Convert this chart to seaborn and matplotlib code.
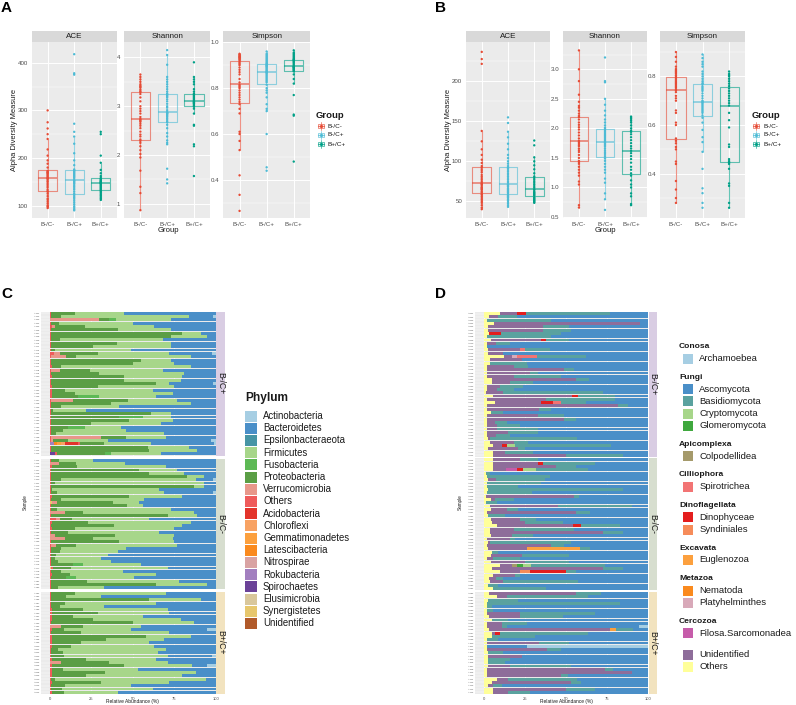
import numpy as np
import pandas as pd
import matplotlib
matplotlib.use("Agg")
import matplotlib.pyplot as plt
import seaborn as sns
from matplotlib.patches import Rectangle
from matplotlib.ticker import AutoMinorLocator

W, H = 796, 705

# ---------------- alpha diversity values ----------------
groups = ["B-/C-", "B-/C+", "B+/C+"]
group_colors = {"B-/C-": "#E64B35", "B-/C+": "#4DBBD5", "B+/C+": "#00A087"}

bact_ace = {
    "B-/C-": [95, 98, 100, 104, 108, 112, 115, 120, 125, 129, 131, 134, 138, 141, 144, 147, 150, 152, 155, 157,
              158, 160, 162, 164, 166, 168, 169, 170, 172, 173, 180, 188, 195, 205, 218, 240, 250, 262, 275, 300],
    "B-/C+": [90, 92, 95, 98, 102, 106, 110, 114, 117, 120, 123, 126, 130, 134, 137, 140, 143, 146, 148, 150, 152,
              153, 156, 159, 161, 163, 165, 167, 169, 171, 173, 174, 176, 185, 195, 210, 230, 245, 255, 272, 375, 378, 418],
    "B+/C+": [112, 115, 118, 121, 124, 127, 130, 132, 134, 136, 138, 140, 142, 144, 146, 147,
              148, 149, 150, 151, 153, 154, 156, 158, 162, 168, 175, 190, 205, 250, 255],
}
bact_shannon = {
    "B-/C-": [0.87, 1.22, 1.35, 1.68, 1.95, 2.02, 2.1, 2.18, 2.25, 2.29, 2.32, 2.38, 2.42, 2.48, 2.55, 2.6, 2.64, 2.68, 2.7, 2.72,
              2.74, 2.78, 2.85, 2.9, 2.95, 3.0, 3.1, 3.18, 3.25, 3.29, 3.31, 3.34, 3.38, 3.4, 3.42, 3.45, 3.5, 3.55, 3.6, 3.65],
    "B-/C+": [1.42, 1.5, 1.72, 2.22, 2.25, 2.3, 2.38, 2.45, 2.55, 2.62, 2.67, 2.69, 2.72, 2.75, 2.78, 2.8, 2.82, 2.84, 2.85, 2.86, 2.87,
              2.88, 2.92, 2.97, 3.0, 3.05, 3.1, 3.14, 3.18, 3.2, 3.22, 3.24, 3.26, 3.3, 3.35, 3.4, 3.45, 3.5, 3.55, 3.6, 3.85, 4.05, 4.15],
    "B+/C+": [1.57, 2.18, 2.22, 2.6, 2.62, 2.85, 2.95, 2.99, 3.01, 3.03, 3.05, 3.06, 3.07, 3.08, 3.09, 3.1,
              3.12, 3.14, 3.16, 3.18, 3.2, 3.22, 3.24, 3.26, 3.3, 3.35, 3.45, 3.5, 3.55, 3.6, 3.9],
}
bact_simpson = {
    "B-/C-": [0.265, 0.335, 0.42, 0.53, 0.57, 0.6, 0.61, 0.69, 0.71, 0.73, 0.74, 0.75, 0.76, 0.77, 0.78, 0.79, 0.8, 0.805, 0.81, 0.815,
              0.825, 0.84, 0.86, 0.87, 0.88, 0.89, 0.9, 0.905, 0.91, 0.915, 0.922, 0.925, 0.93, 0.932, 0.935, 0.938, 0.94, 0.944, 0.947, 0.95],
    "B-/C+": [0.44, 0.455, 0.6, 0.7, 0.71, 0.73, 0.76, 0.78, 0.79, 0.8, 0.815, 0.825, 0.83, 0.835, 0.84, 0.845, 0.85, 0.855, 0.86, 0.865, 0.868,
              0.87, 0.873, 0.876, 0.88, 0.884, 0.888, 0.892, 0.895, 0.898, 0.9, 0.903, 0.907, 0.91, 0.915, 0.92, 0.925, 0.93, 0.935, 0.94, 0.945, 0.95, 0.96],
    "B+/C+": [0.48, 0.68, 0.685, 0.77, 0.82, 0.84, 0.86, 0.873, 0.877, 0.88, 0.883, 0.886, 0.889, 0.891, 0.893, 0.895,
              0.9, 0.905, 0.91, 0.914, 0.918, 0.921, 0.924, 0.926, 0.93, 0.935, 0.94, 0.945, 0.95, 0.955, 0.965],
}
fung_ace = {
    "B-/C-": [40, 42, 45, 48, 50, 52, 54, 56, 58, 59, 61, 62, 64, 65, 66, 67, 68, 70, 71, 72,
              73, 75, 77, 79, 81, 83, 86, 88, 90, 92, 94, 98, 102, 108, 115, 125, 138, 222, 228, 237],
    "B-/C+": [43, 45, 47, 49, 51, 52, 54, 55, 56, 57, 58, 60, 61, 62, 63, 64, 65, 66, 68, 69, 70, 71,
              73, 75, 77, 79, 81, 83, 85, 87, 89, 91, 92, 94, 97, 100, 104, 108, 115, 122, 130, 137, 148, 155],
    "B+/C+": [48, 49, 50, 51, 52, 53, 54, 55, 57, 58, 59, 60, 61, 62, 64, 65,
              67, 69, 71, 73, 75, 77, 79, 81, 85, 90, 95, 100, 105, 120, 126],
}
fung_shannon = {
    "B-/C-": [0.66, 0.7, 1.05, 1.1, 1.2, 1.25, 1.3, 1.35, 1.4, 1.43, 1.45, 1.5, 1.55, 1.6, 1.63, 1.66, 1.7, 1.72, 1.75, 1.77,
              1.79, 1.83, 1.88, 1.93, 1.98, 2.02, 2.06, 2.1, 2.15, 2.19, 2.21, 2.25, 2.3, 2.35, 2.38, 2.45, 2.57, 2.8, 3.0, 3.32],
    "B-/C+": [0.62, 0.8, 0.9, 1.08, 1.15, 1.25, 1.3, 1.35, 1.4, 1.45, 1.49, 1.52, 1.55, 1.58, 1.6, 1.63, 1.66, 1.69, 1.71, 1.73, 1.75, 1.76,
              1.78, 1.8, 1.82, 1.84, 1.86, 1.88, 1.9, 1.92, 1.94, 1.96, 1.99, 2.01, 2.05, 2.1, 2.15, 2.22, 2.3, 2.4, 2.5, 2.78, 2.8, 3.2],
    "B+/C+": [0.7, 0.72, 0.85, 0.9, 1.0, 1.05, 1.12, 1.2, 1.24, 1.3, 1.35, 1.42, 1.48, 1.53, 1.58, 1.62,
              1.66, 1.7, 1.75, 1.8, 1.85, 1.9, 1.94, 1.96, 2.0, 2.05, 2.1, 2.13, 2.16, 2.18, 2.2],
}
fung_simpson = {
    "B-/C-": [0.28, 0.3, 0.335, 0.37, 0.44, 0.45, 0.5, 0.51, 0.525, 0.535, 0.545, 0.6, 0.61, 0.65, 0.66, 0.7, 0.71, 0.72, 0.735, 0.742,
              0.748, 0.755, 0.76, 0.765, 0.77, 0.775, 0.78, 0.785, 0.79, 0.797, 0.803, 0.81, 0.815, 0.82, 0.825, 0.83, 0.84, 0.86, 0.88, 0.9],
    "B-/C+": [0.26, 0.28, 0.32, 0.34, 0.42, 0.49, 0.53, 0.55, 0.58, 0.61, 0.63, 0.64, 0.65, 0.655, 0.66, 0.665, 0.67, 0.675, 0.68, 0.685, 0.69, 0.693,
              0.697, 0.7, 0.71, 0.72, 0.73, 0.74, 0.745, 0.75, 0.755, 0.76, 0.768, 0.772, 0.78, 0.79, 0.8, 0.81, 0.82, 0.84, 0.85, 0.86, 0.875, 0.89],
    "B+/C+": [0.26, 0.28, 0.35, 0.36, 0.42, 0.44, 0.445, 0.448, 0.452, 0.46, 0.51, 0.52, 0.59, 0.62, 0.65, 0.68,
              0.69, 0.7, 0.71, 0.72, 0.73, 0.74, 0.75, 0.76, 0.77, 0.78, 0.79, 0.8, 0.805, 0.81, 0.82],
}

metrics = ["ACE", "Shannon", "Simpson"]
bact_ylim = {"ACE": (74, 443), "Shannon": (0.71, 4.31), "Simpson": (0.234, 1.0)}
bact_ticks = {"ACE": [100, 200, 300, 400], "Shannon": [1, 2, 3, 4], "Simpson": [0.4, 0.6, 0.8, 1.0]}
bact_ticklabels = {"ACE": ["100", "200", "300", "400"], "Shannon": ["1", "2", "3", "4"],
                   "Simpson": ["0.4", "0.6", "0.8", "1.0"]}
fung_ylim = {"ACE": (29, 249), "Shannon": (0.483, 3.457), "Simpson": (0.218, 0.94)}
fung_ticks = {"ACE": [50, 100, 150, 200], "Shannon": [0.5, 1.0, 1.5, 2.0, 2.5, 3.0], "Simpson": [0.4, 0.6, 0.8]}
fung_ticklabels = {"ACE": ["50", "100", "150", "200"], "Shannon": ["0.5", "1.0", "1.5", "2.0", "2.5", "3.0"],
                   "Simpson": ["0.4", "0.6", "0.8"]}

# ---------------- relative abundance, bacteria (panel C) ----------------
facet_groups = ["B-/C+", "B-/C-", "B+/C+"]
strip_colors = {"B-/C+": "#D9CDE3", "B-/C-": "#D7DECF", "B+/C+": "#F2E3BF"}
c_counts = [43, 40, 31]

phyla = ["Actinobacteria", "Bacteroidetes", "Epsilonbacteraeota", "Firmicutes", "Fusobacteria",
         "Proteobacteria", "Verrucomicrobia", "Others", "Acidobacteria", "Chloroflexi",
         "Gemmatimonadetes", "Latescibacteria", "Nitrospirae", "Rokubacteria", "Spirochaetes",
         "Elusimicrobia", "Synergistetes", "Unidentified"]
phylum_colors = ["#A6CEE3", "#4A8FC8", "#4795A5", "#A7D68A", "#5DB955", "#5B9E45", "#E8978A", "#EF5B5B",
                 "#E3342B", "#F8A263", "#FCA03E", "#FA8A1E", "#D9A3A3", "#A27FBF", "#6B4298", "#D9C79B",
                 "#E7C76D", "#B15A2A"]

c_others = [.6, .6, 0, .8, 1.5, .5, .5, .5, 1, .5, .5, .5, 2.5, .5, .5, .5, 1.5, .5, .5, 1.5,
            .5, .5, 1.5, 1.5, 1.5, 1.5, .5, .5, 1, .5, .5, .5, .5, .5, .5, .5, .5, 1, 1, 1, .5, .5, 1.6,
            1, 0, 1.5, .5, .5, .5, .5, .5, .5, 1, .5, 1.5, .5, 0, .5, .5, 0, .5, 4, 1.5,
            .5, 1.5, .5, 0, 0, .5, 1, .5, .5, .5, .5, .5, .5, 1, .5, 1.5, .5, .5, .5, .5,
            1, .5, .5, .5, .5, 1.5, 1.5, 1.5, 1.5, .5, 0, 1.5, .5, 1.5, 1.5, 1.5, 1.5, .5, .5, .5,
            1.5, 0, 1.5, 1.5, 1.5, 1.5, .5, 1.5, .5, .5, 1.5]
c_proteo = [14.4, 6.4, 6, 4.7, 18, 40.5, 79.5, 72.5, 5, 40, 25.5, 2.5, 23, 6, 54.5, 49.5, 5.5, 17.5, 29.5, 43.5,
            44.5, 63.5, 27.5, 7.5, 13.5, 15.5, 33, 36.5, 6, 1.5, 60.5, 41.5, 47.5, 24.5, 10.5, 7.5, 3.5, 15, 9, 15,
            58.5, 59.5, 28.9,
            4.5, 10.5, 15, 53.5, 59.5, 82.5, 6.5, 2.5, 86.5, .4, 4.1, 46.5, 6.5, 33.4, 46.1, 4.1, 11, 70.5, 7.7, 21.5,
            38.5, 13.5, 10.5, 36.5, 17, 41, 12, 6.5, 5.5, 3.5, 2.9, 4.5, 13.5, 11.2, 6.5, 10.5, 9.5, 22.2, 63.5, 4.5,
            14, 9.5, 59.5, 8.5, 6, 18.5, 27.5, 12.5, 24.5, 49.5, 13, 7.1, 18.5, 56.5, 32.5, 17.5, 11.1, 4.5, 7.5, 8.1,
            20.5, 29, 43.5, 6.5, 32, 20.5, 2.5, 29.5, 8.5, 7.1, 6.9]
c_firmi = [30, 77, 33, 44.5, 42, 32, 11, 22, 62, 32.5, 47, 46, 43, 69, 18, 25, 78, 44, 51, 35,
           34, 8, 46, 53, 59, 34.5, 30, 48, 35, 20, 12, 16.5, 26, 42, 22, 38, 65, 24, 24, 28, 25, 29, 30,
           20.5, 29.5, 53.5, 23, 21, 10, 81, 90, 6, 64.6, 64.4, 32, 50, 16, 9.4, 68.4, 67, 18, 46.3, 62,
           41, 60, 55, 35.5, 48, 33.5, 61, 39, 35, 31, 27.6, 32, 35, 58, 37, 52, 35, 55.3, 31, 28,
           55, 21, 31, 55, 26.5, 51, 43, 42, 53, 37, 35, 40.4, 53, 27, 35, 41, 50.4, 65, 57, 62.4,
           42, 35, 41, 45, 54.5, 58, 91, 41, 40, 54.4, 32.6]
c_bacter = [55, 14.5, 27, 50, 37, 27, 9, 5, 32, 27, 27, 51, 26, 15, 27, 25, 15, 32, 19, 20,
            21, 26.5, 25, 38, 26, 36, 23, 15, 58, 78, 27, 27, 26, 33, 57, 54, 31, 30, 62, 38, 16, 11, 33,
            74, 54.5, 30, 23, 19, 7, 10.5, 7, 7, 34, 29.5, 20, 43, 46, 44, 27, 13, 11, 40, 15,
            20, 25, 34, 25, 26, 25, 23, 54, 59, 65, 69, 63, 45, 29, 56, 36, 49, 22, 5, 67,
            30, 69, 9, 36, 67, 29, 28, 44, 21, 13, 45, 46, 28, 15, 31, 40, 37, 30, 35, 27,
            36, 29, 9, 47, 12, 20, 6, 28, 51, 38, 59]
# sparse phyla: sample index -> percent
c_verru = {2: 30, 4: 1.5, 12: 3.5, 13: 9.5, 17: 6, 26: 13.5, 37: 30, 38: 1, 44: 5.5, 56: 3.2,
           59: 9, 61: 2, 66: 3, 67: 9, 69: 3, 93: 7, 104: 7}
c_fuso = {2: 4, 25: 12.5, 31: 14.5, 34: 10, 42: 3.5, 75: 6, 79: 6}
c_actino = {1: 1.5, 12: 2, 21: 1.5, 38: 3, 39: 1, 49: 1.5, 53: 1.5, 94: 5, 102: 2, 105: 5}
c_acido = {39: 8}
c_chloro = {39: 2.4}
c_gemma = {39: 2.5}
c_latesc = {39: 1.5}
c_roku = {39: 2.6}
c_spiro = {42: 3}
c_syner = {56: 1.4, 76: 0.8}

# ---------------- relative abundance, eukaryotes (panel D) ----------------
d_counts = [44, 40, 31]
taxa_groups = [("Conosa", ["Archamoebea"]),
               ("Fungi", ["Ascomycota", "Basidiomycota", "Cryptomycota", "Glomeromycota"]),
               ("Apicomplexa", ["Colpodellidea"]),
               ("Cilliophora", ["Spirotrichea"]),
               ("Dinoflagellata", ["Dinophyceae", "Syndiniales"]),
               ("Excavata", ["Euglenozoa"]),
               ("Metazoa", ["Nematoda", "Platyhelminthes"]),
               ("Cercozoa", ["Filosa.Sarcomonadea"]),
               ("", ["Unidentified", "Others"])]
taxa_colors = ["#A6CEE3", "#4A8FC8", "#5AA29F", "#A7D68A", "#3FA83E", "#A59A6B", "#F27474", "#E41E1E",
               "#F68C5A", "#FCA03E", "#FA8A1E", "#D8A9B9", "#C65CAA", "#8E6D9A", "#FFFF99"]

d_others = [9.7, 3.2, 1.6, 6, 2.6, 2.6, 3.2, 1.6, 4, 2, 1.6, 2.6, 2.6, 12, 3.6, 3.6, 2, 2, 2, 2,
            4.7, 4.7, 2, 1.6, 1.2, 5.3, 2, 6.5, 1.6, 1.6, 4, 1.6, 1.6, 2, 2, 2, 1.6, 1.6, 2.6, 3.6, 5.3, 2.6, 5.7, 5.7,
            5.7, 5.7, 5.7, 5.3, 1.2, 2, 2.6, 1.6, 2, 2.6, 1.6, 1.2, 4, 1.2, 3.6, 4, 2, 2.6, 4, 4.7,
            8, 3.6, 3.6, 4, 2, 2.6, 2, 2.6, 4.7, 4, 2, 4, 9.7, 4.7, 10, 5.7, 3.2, 3.6, 2.6, 5.3,
            3.2, 8, 2.6, 2, 2, 2, 1.6, 3.2, 4.7, 1.6, 1.6, 3.2, 4.7, 4.7, 2, 1.6, 2, 2, 2.6, 2.6,
            2.6, 2.6, 2.6, 2, 1.6, 2, 8, 4.7, 2.6, 5.7, 5.3]
d_unident = [10.2, 5.5, 0, 89, 33.4, 33.4, 0, 0, 30.7, 5.3, 0, 19.4, 8.8, 5, 19.4, 0, 16, 47, 26, 16,
             51.3, 11.3, 7.7, 6.1, 10.6, 48.5, 36, 28, 80.4, 32.1, 0, 31.1, 47.4, 4.7, 6, 5.7, 13.2, 5.7, 1, 14.4,
             5.5, 18.4, 7.1, 44.3,
             16.3, 27.3, 38.3, 8.1, 0, 0, 4.7, 0, 0, 0, 0, 53.8, 2.7, 0, 41.4, 9.8, 54, 0, 18, 20.3,
             46, 14.4, 69, 12.8, 13.8, 1.1, 39, 23.4, 0, 19, 3.7, 21, 7.1, 67.9, 12, 13.2, 4.1, 8.2, 0, 0,
             53.2, 5.8, 0, 0, 0, 0, 20.4, 18.8, 0, 9.2, 9.2, 73.5, 2, 0, 0, 32.1, 0, 36.5, 0, 20.4,
             0, 0, 13.2, 71.6, 88.4, 45, 6.8, 48.3, 3.1, 44.3, 9.5]
d_basidio = [51.4, 11.3, 39.4, 0, 16, 17, 36.7, 39, 13.7, 8.7, 0, 15, 0, 29.5, 0, 22.4, 9, 6, 5, 29,
             8, 14, 14.3, 10.3, 60.8, 22.4, 42, 15, 6, 7.3, 7.4, 16.3, 7, 7.1, 14, 25.3, 18.2, 8.7, 53.4, 9,
             58.8, 4, 17.2, 35,
             10.7, 31.5, 12.4, 31.5, 2.5, 38, 29.7, 33.4, 19, 82.2, 27.4, 3, 11.3, 6.5, 45.5, 7.2, 8.5, 10.2, 10, 23,
             23.6, 37, 12.2, 12.8, 3.1, 49.3, 8, 6.1, 4, 29, 16.3, 27, 45, 12.2, 6.4, 3.1, 4.5, 45.6, 6.1, 32.7,
             15.2, 49.7, 18.4, 81, 2.7, 3.3, 45.5, 26, 10.1, 15.2, 3, 10.6, 53.5, 26.3, 6.7, 18.3, 0, 8.5, 9.2, 0,
             13.4, 10.2, 37.2, 5.1, 0, 4, 42, 6.4, 5.1, 17.5, 13.2]
d_asco = [23, 80, 59, 5, 48, 47, 53, 59.4, 48.3, 84, 98.4, 60, 88.6, 38, 77, 74, 73, 45, 67, 53,
          36, 70, 76, 82, 27.4, 20, 20, 38, 12, 59, 88.6, 51, 44, 86.2, 78, 67, 67, 84, 43, 73,
          22.3, 75, 70, 15,
          67.3, 32.5, 43.6, 36.5, 96.3, 60, 63, 65, 79, 15.2, 71, 42, 82, 92.3, 9.5, 79, 35.5, 87.2, 68, 52,
          17, 45, 15.2, 70.4, 81.1, 47, 51, 35.5, 91.3, 48, 78, 48, 26.4, 15.2, 43.6, 78, 88.2, 42.6, 91.3, 62,
          28.4, 36.5, 79, 17, 95.3, 94.7, 32.5, 52, 85.2, 74, 80.5, 9.1, 36.5, 69, 91.3, 48, 24, 53, 88.2, 77,
          84, 87.2, 47, 21.3, 10, 49, 43.2, 40.6, 89.2, 32.5, 72]
d_dino = {0: 5.7, 6: 7.1, 8: 3.3, 25: 3.8, 27: 7.5, 40: 3.2, 45: 3, 47: 4, 64: 5.4, 78: 22, 96: 3.3}
d_spirot = {11: 3, 13: 12.5, 27: 5}
d_platy = {13: 3}
d_crypto = {40: 4.9, 47: 8, 76: 4.6}
d_filosa = {47: 6.6}
d_colpo = {76: 3.2}
d_glomero = {76: 4}
d_syndin = {78: 6}
d_eugleno = {71: 32.4, 95: 3.6}
d_archa = {94: 5.7, 100: 74}

c_samples = [f"A{101 + i}" for i in range(sum(c_counts))]
d_samples = [f"A{201 + i}" for i in range(sum(d_counts))]


def wide_table(full, sparse, taxa, counts, samples):
    n = sum(counts)
    for vals in full.values():
        assert len(vals) == n, len(vals)
    cols = {}
    for t in taxa:
        if t in full:
            cols[t] = full[t]
        else:
            cols[t] = [sparse.get(t, {}).get(i, 0) for i in range(n)]
    df = pd.DataFrame(cols)
    df.insert(0, "Group", np.repeat(facet_groups, counts))
    df.insert(0, "Sample", samples)
    return df


c_table = wide_table({"Others": c_others, "Proteobacteria": c_proteo, "Firmicutes": c_firmi,
                      "Bacteroidetes": c_bacter},
                     {"Verrucomicrobia": c_verru, "Fusobacteria": c_fuso, "Actinobacteria": c_actino,
                      "Acidobacteria": c_acido, "Chloroflexi": c_chloro, "Gemmatimonadetes": c_gemma,
                      "Latescibacteria": c_latesc, "Rokubacteria": c_roku, "Spirochaetes": c_spiro,
                      "Synergistetes": c_syner},
                     phyla, c_counts, c_samples)
euk_taxa = [t for _, ts in taxa_groups for t in ts]
d_table = wide_table({"Others": d_others, "Unidentified": d_unident, "Basidiomycota": d_basidio,
                      "Ascomycota": d_asco},
                     {"Dinophyceae": d_dino, "Spirotrichea": d_spirot, "Platyhelminthes": d_platy,
                      "Cryptomycota": d_crypto, "Filosa.Sarcomonadea": d_filosa, "Colpodellidea": d_colpo,
                      "Glomeromycota": d_glomero, "Syndiniales": d_syndin, "Euglenozoa": d_eugleno,
                      "Archamoebea": d_archa},
                     euk_taxa, d_counts, d_samples)

# ---------------- drawing ----------------
sns.set_theme(style="darkgrid")
plt.rcParams['font.family'] = ['Liberation Sans', 'DejaVu Sans']
PANEL = "#EBEBEB"

fig = plt.figure(figsize=(W / 100, H / 100), dpi=100)
ov = fig.add_axes([0, 0, 1, 1])
ov.set_xlim(0, W)
ov.set_ylim(H, 0)
ov.axis("off")


def px_axes(x0, y0, x1, y1):
    return fig.add_axes([x0 / W, 1 - y1 / H, (x1 - x0) / W, (y1 - y0) / H])


def strip_box(x0, y0, x1, y1, label, color, rot=0):
    sx = px_axes(x0, y0, x1, y1)
    sx.set_facecolor(color)
    sx.set_xticks([])
    sx.set_yticks([])
    sx.grid(False)
    for s in sx.spines.values():
        s.set_visible(False)
    sx.text(0.5, 0.5, label, ha="center", va="center", rotation=rot, fontsize=5.8 if rot == 0 else 6.2,
            color="#1A1A1A", transform=sx.transAxes)


def alpha_panel(xs, data, ylims, ticks, ticklabels):
    for (x0, x1), m, vals in zip(xs, metrics, data):
        ax = px_axes(x0, 42.3, x1, 218)
        df = pd.DataFrame({"Group": np.repeat(groups, [len(vals[g]) for g in groups]),
                           "value": np.concatenate([vals[g] for g in groups])})
        sns.boxplot(data=df, x="Group", y="value", hue="Group", order=groups, hue_order=groups,
                    palette=group_colors, fill=False, showfliers=False, width=0.72, linewidth=0.8,
                    legend=False, ax=ax, medianprops={"linewidth": 1.3}, capprops={"visible": False})
        for art in list(ax.lines) + list(ax.patches):
            art.set_alpha(0.6)
        sns.stripplot(data=df, x="Group", y="value", hue="Group", order=groups, hue_order=groups,
                      palette=group_colors, jitter=False, size=1.7, legend=False, ax=ax, zorder=3)
        ax.set_xlim(-0.6, 2.6)
        ax.set_ylim(*ylims[m])
        ax.set_yticks(ticks[m])
        ax.set_yticklabels(ticklabels[m])
        ax.yaxis.set_minor_locator(AutoMinorLocator(2))
        ax.set_facecolor(PANEL)
        ax.grid(which="major", color="white", lw=0.7)
        ax.grid(which="minor", axis="y", color="white", lw=0.35)
        for s in ax.spines.values():
            s.set_visible(False)
        ax.set_xlabel("")
        ax.set_ylabel("")
        ax.tick_params(which="major", labelsize=4.4, labelcolor="#4D4D4D", color="#333333",
                       length=1.8, width=0.4, pad=1)
        ax.tick_params(which="minor", length=0)
        strip_box(x0, 31, x1, 42.3, m, "#D9D9D9")


def group_legend(x_title, x_key, x_text):
    ov.text(x_title, 116, "Group", fontsize=6.8, fontweight="bold", va="center", color="#1A1A1A")
    for g, yc in zip(groups, [126, 135, 144]):
        col = group_colors[g]
        ov.add_patch(Rectangle((x_key - 3.2, yc - 2.3), 6.4, 4.6, facecolor="none", edgecolor=col,
                               lw=0.6, alpha=0.7))
        ov.plot([x_key, x_key], [yc - 4, yc - 2.3], color=col, lw=0.6, alpha=0.7)
        ov.plot([x_key, x_key], [yc + 2.3, yc + 4], color=col, lw=0.6, alpha=0.7)
        ov.plot([x_key - 3.2, x_key + 3.2], [yc, yc], color=col, lw=0.9, alpha=0.7)
        ov.plot([x_key], [yc], "o", color=col, ms=1.3)
        ov.text(x_text, yc, g, fontsize=4.6, va="center", color="#1A1A1A")


def abundance_panel(table, taxa, colors, x0, x1, bounds, xlim):
    pal = dict(zip(taxa, colors))
    for k, ((y0, y1), grp) in enumerate(zip(bounds, facet_groups)):
        sub = table[table.Group == grp].reset_index(drop=True)
        order = sub["Sample"].tolist()
        # ggplot stacks the first legend level at the far right, so the
        # cumulative sum runs from the last level to the first
        cum = sub[taxa[::-1]].cumsum(axis=1)
        ax = px_axes(x0, y0, x1, y1)
        ax.set_facecolor(PANEL)
        for t in taxa:
            layer = pd.DataFrame({"Sample": order, "cum": cum[t].values})
            sns.barplot(data=layer, x="cum", y="Sample", order=order, orient="h", color=pal[t],
                        saturation=1, width=0.88, errorbar=None, linewidth=0, ax=ax)
        # layered bars: switch off antialiasing so lower layers do not bleed at the edges
        for p in ax.patches:
            p.set_antialiased(False)
        ax.set_xlim(*xlim)
        ax.set_ylim(len(order) - 0.5, -0.5)
        ax.set_xticks([0, 25, 50, 75, 100])
        ax.grid(axis="x", color="white", lw=0.4)
        ax.grid(axis="y", color="white", lw=0.3)
        ax.set_axisbelow(True)
        for s in ax.spines.values():
            s.set_visible(False)
        ax.set_xlabel("")
        ax.set_ylabel("")
        ax.tick_params(axis="y", labelsize=1.6, labelcolor="#4D4D4D", color="#333333", length=1,
                       width=0.3, pad=0.5)
        ax.tick_params(axis="x", labelsize=3.0, labelcolor="#4D4D4D", color="#333333", length=1.2,
                       width=0.3, pad=0.6, labelbottom=(k == 2))
        strip_box(x1 + 0.3, y0, x1 + 8.7, y1, grp, strip_colors[grp], rot=270)


# panel A (bacteria) and panel B (fungi)
alpha_panel([(31.7, 116.7), (124.3, 210), (223.3, 310)], [bact_ace, bact_shannon, bact_simpson],
            bact_ylim, bact_ticks, bact_ticklabels)
alpha_panel([(466, 550), (563.3, 646.7), (660, 745)], [fung_ace, fung_shannon, fung_simpson],
            fung_ylim, fung_ticks, fung_ticklabels)
for xl, xg in [(15, 168), (449, 605)]:
    ov.text(xl, 130, "Alpha Diversity Measure", rotation=90, ha="center", va="center", fontsize=5.4,
            color="#1A1A1A")
    ov.text(xg, 230, "Group", ha="center", va="center", fontsize=5.6, color="#1A1A1A")
group_legend(316, 321, 328)
group_legend(751.7, 756, 763)

# panel C and D
abundance_panel(c_table, phyla, phylum_colors, 41, 216, [(311.5, 455.5), (458.5, 589.3), (591.5, 694)],
                (-5.24, 100.2))
abundance_panel(d_table, euk_taxa, taxa_colors, 475, 648.3, [(312, 457), (458.3, 590), (592, 694)],
                (-5.5, 100.2))
for xs, xr in [(25, 132.7), (460, 566)]:
    ov.text(xs, 502, "Sample", rotation=90, ha="center", va="center", fontsize=3.3, color="#1A1A1A")
    ov.text(xr, 701.5, "Relative Abundance (%)", ha="center", va="center", fontsize=3.5, color="#1A1A1A")

# phylum legend
ov.text(245, 398, "Phylum", fontsize=8.6, fontweight="bold", va="center", color="#1A1A1A")
for i, (name, col) in enumerate(zip(phyla, phylum_colors)):
    yc = 416 + i * 12.2
    ov.add_patch(Rectangle((245, yc - 5.5), 11.7, 11, facecolor=col, edgecolor="none"))
    ov.text(263, yc, name, fontsize=6.9, va="center", color="#1A1A1A")

# eukaryote legend with headers
pal_d = dict(zip(euk_taxa, taxa_colors))
y = 346.7
for header, names in taxa_groups:
    if header:
        ov.text(679, y, header, fontsize=6.1, fontweight="bold", va="center", color="#1A1A1A")
        y += 12
    else:
        y += 3
    for name in names:
        ov.add_patch(Rectangle((682.7, y - 5), 10.6, 10, facecolor=pal_d[name], edgecolor="none"))
        ov.text(699.3, y, name, fontsize=6.8, va="center", color="#1A1A1A")
        y += 12.2
    y += 6.3

# panel letters
for lx, ly, letter in [(1, 8.5, "A"), (435, 8.5, "B"), (1, 293.5, "C"), (435, 294.5, "D")]:
    ov.text(lx, ly, letter, fontsize=11, fontweight="bold", va="center", ha="left", color="black")

fig.savefig("out.png", dpi=100)
